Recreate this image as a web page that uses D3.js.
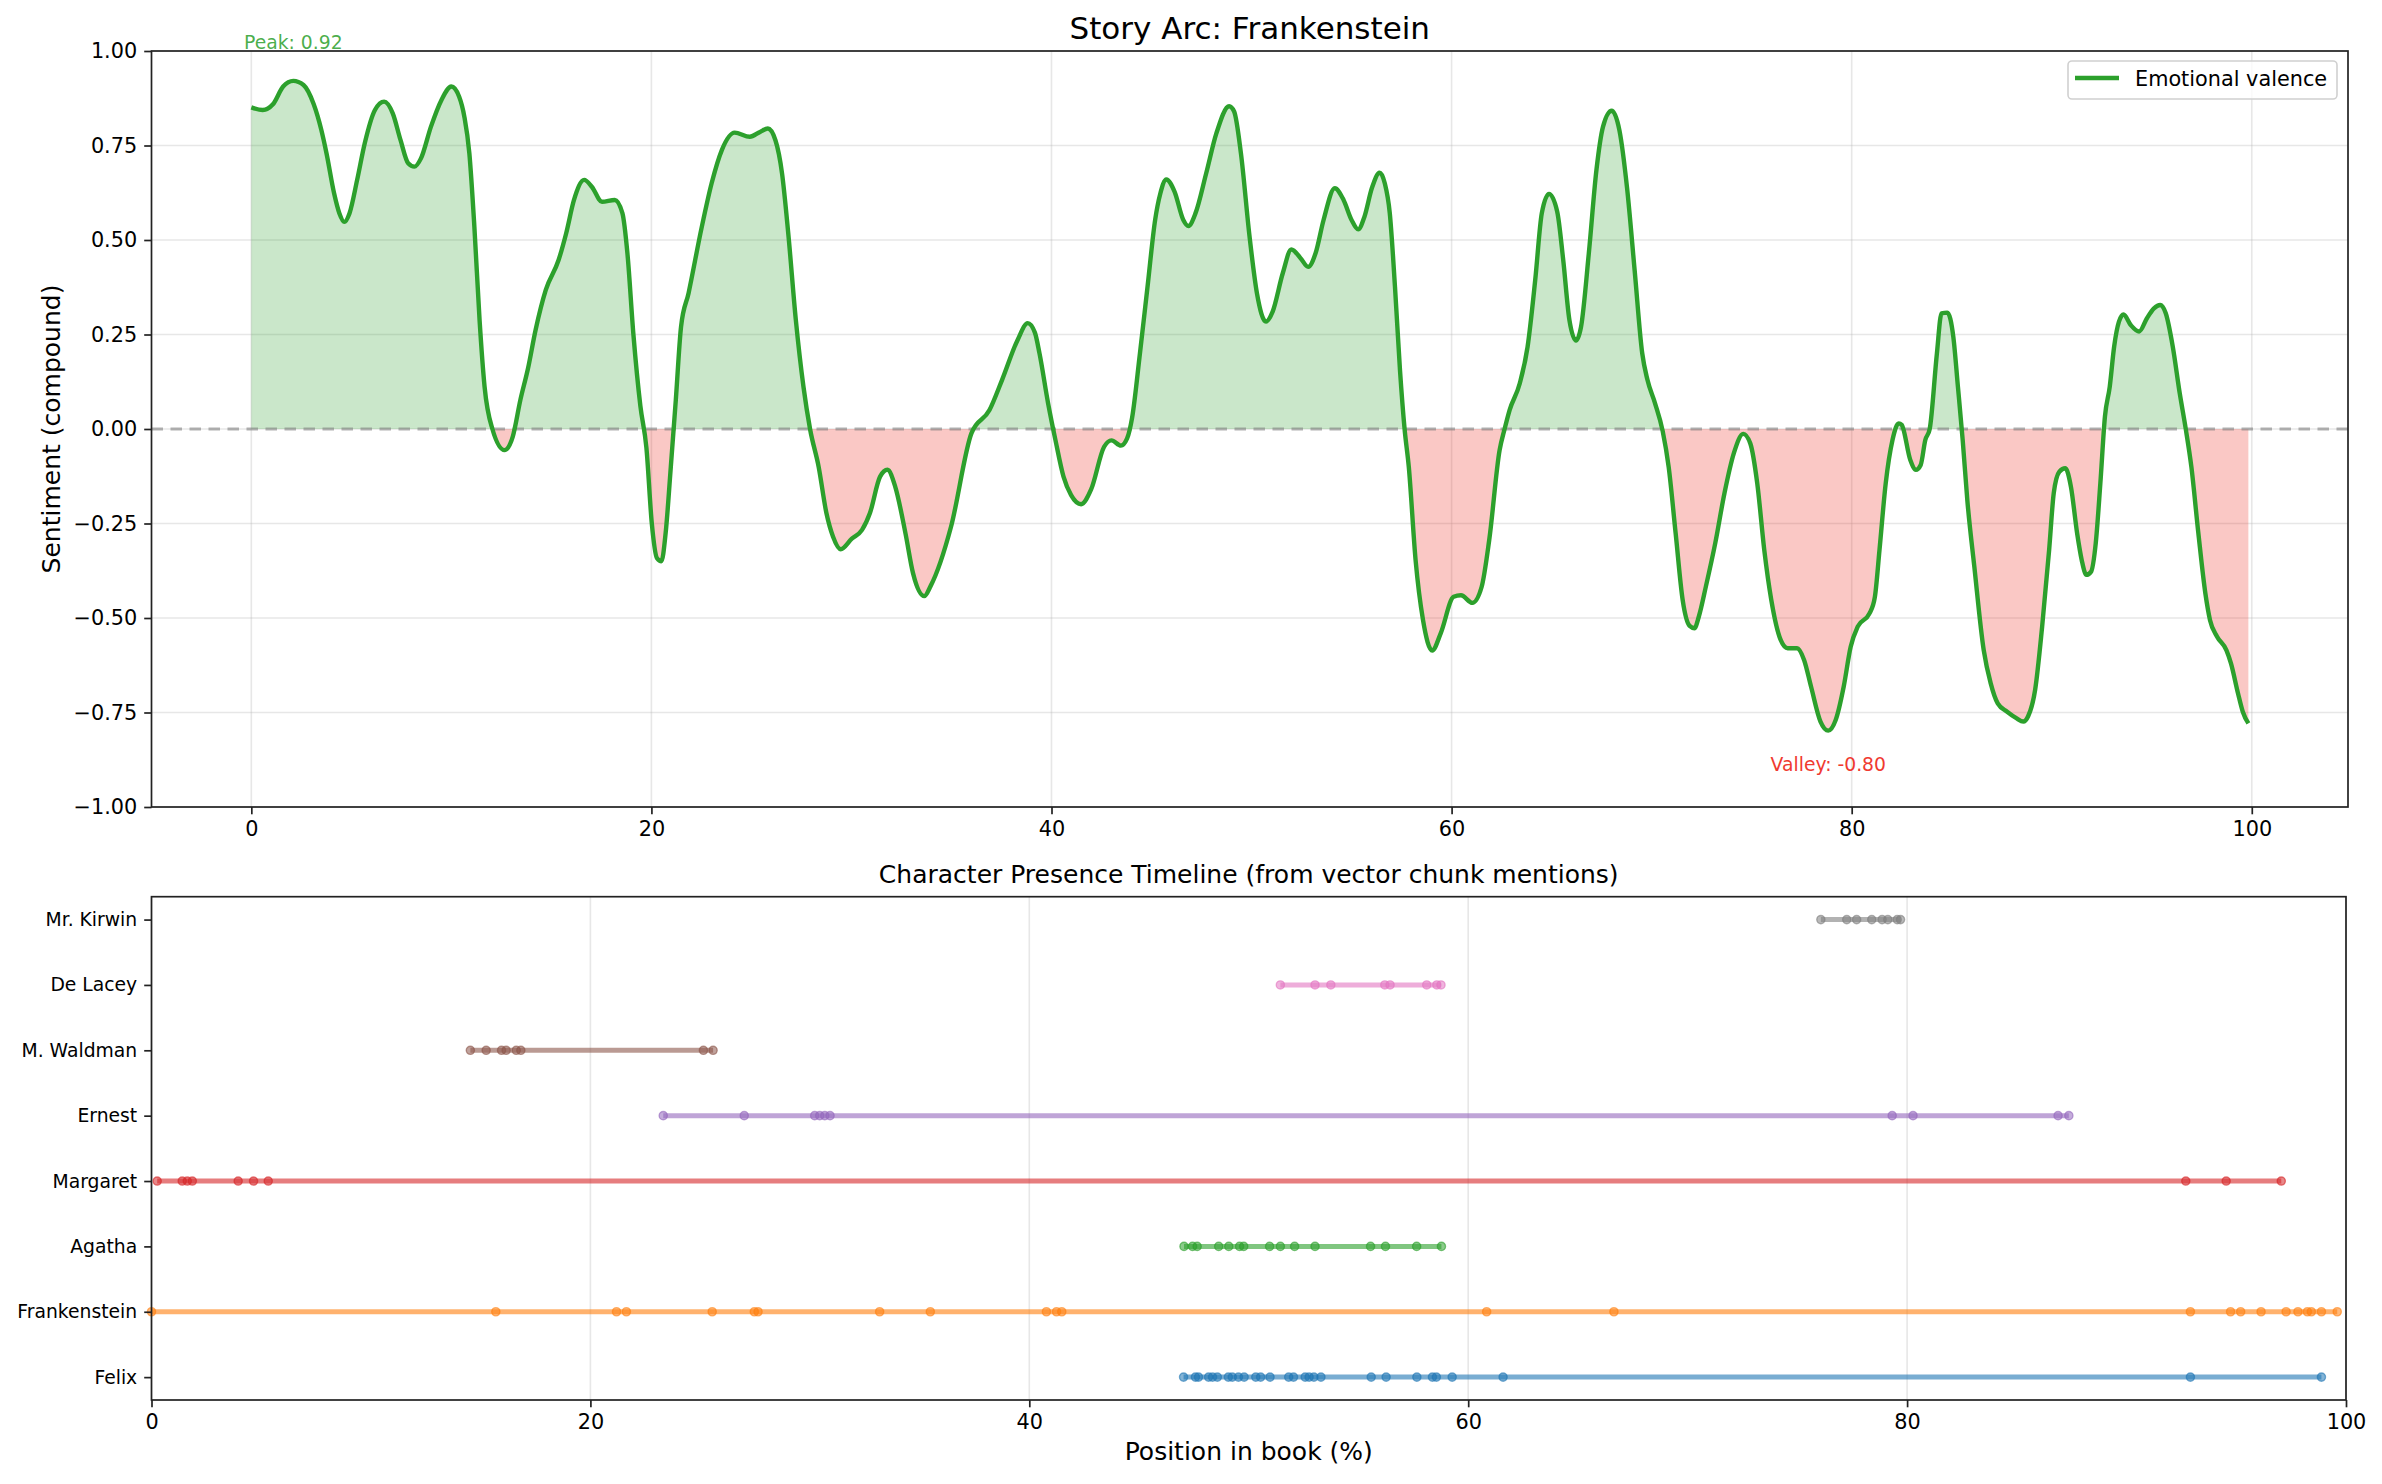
<!DOCTYPE html>
<html>
<head>
<meta charset="utf-8">
<title>Story Arc: Frankenstein</title>
<script src="https://cdn.jsdelivr.net/npm/d3@7"></script>
<style>
  body { margin: 0; background: #fff; }
  svg text { font-family: "DejaVu Sans", sans-serif; }
</style>
</head>
<body>
<div id="chart"></div>
<script>
// sentiment arc, position in book (%) and compound score
var arcX = [0.0,0.57,1.08,1.59,2.1,2.61,3.12,3.5,3.76,4.14,4.4,4.65,4.91,5.29,5.67,6.18,6.64,7.07,7.46,7.84,8.15,8.48,8.98,9.5,10.0,10.39,10.65,10.9,11.15,11.41,11.66,12.05,12.66,13.07,13.45,13.83,14.21,14.72,15.36,15.74,16.13,16.64,17.02,17.53,18.17,18.55,18.8,19.1,19.45,19.75,20.02,20.28,20.5,20.71,20.97,21.22,21.48,21.86,22.5,23.01,23.52,24.16,24.92,25.43,25.82,26.2,26.53,26.84,27.22,27.6,27.93,28.36,28.75,29.08,29.46,30.02,30.53,30.92,31.43,31.8,32.19,32.7,33.08,33.64,33.96,34.98,36.0,36.9,37.53,38.3,38.81,39.17,39.4,39.83,40.2,40.6,40.98,41.48,41.98,42.63,43.0,43.47,43.78,44.03,44.42,44.8,45.18,45.44,45.74,46.15,46.59,46.84,47.2,47.73,48.24,48.88,49.13,49.47,49.9,50.27,50.72,51.05,51.56,51.99,52.45,52.83,53.2,53.6,54.16,54.6,55.0,55.33,55.64,56.02,56.4,56.66,56.91,57.17,57.42,57.65,57.86,58.2,58.57,59.03,59.46,60.1,60.47,61.04,61.5,61.88,62.4,62.65,62.9,63.41,63.8,64.18,64.51,64.87,65.28,65.58,65.89,66.22,66.47,66.86,67.24,67.57,68.0,68.39,68.77,69.15,69.53,69.79,70.17,70.55,70.85,71.2,71.55,71.9,72.14,72.36,72.71,73.18,73.64,74.11,74.58,74.93,75.28,75.63,75.98,76.45,76.8,77.27,77.62,77.97,78.44,78.83,79.2,79.6,79.95,80.3,80.89,81.16,81.39,81.7,82.04,82.35,82.5,82.93,83.21,83.45,83.68,83.9,84.26,84.49,84.78,85.08,85.31,85.55,85.78,86.13,86.6,86.95,87.3,87.77,88.23,88.58,88.82,89.17,89.52,89.87,90.1,90.38,90.68,90.96,91.27,91.5,91.73,91.96,92.2,92.43,92.66,92.9,93.12,93.36,93.59,93.95,94.37,94.76,95.11,95.42,95.7,96.05,96.4,96.7,96.98,97.33,97.68,97.91,98.26,98.73,98.96,99.31,99.55,99.83];
var arcY = [0.851,0.844,0.859,0.906,0.921,0.91,0.859,0.791,0.729,0.623,0.571,0.548,0.571,0.659,0.756,0.844,0.866,0.835,0.764,0.703,0.694,0.716,0.8,0.87,0.906,0.879,0.826,0.729,0.535,0.288,0.112,0.0,-0.056,-0.02,0.077,0.16,0.262,0.368,0.447,0.518,0.606,0.659,0.641,0.601,0.606,0.571,0.465,0.25,0.06,-0.05,-0.25,-0.342,-0.35,-0.276,-0.1,0.077,0.27,0.36,0.53,0.65,0.738,0.784,0.773,0.786,0.795,0.764,0.676,0.518,0.288,0.112,0.0,-0.1,-0.223,-0.285,-0.318,-0.29,-0.267,-0.223,-0.126,-0.108,-0.153,-0.276,-0.382,-0.442,-0.415,-0.258,-0.011,0.05,0.13,0.235,0.28,0.255,0.2,0.068,-0.03,-0.126,-0.175,-0.199,-0.16,-0.047,-0.03,-0.044,-0.025,0.03,0.2,0.376,0.553,0.623,0.66,0.628,0.553,0.537,0.571,0.676,0.782,0.854,0.84,0.729,0.509,0.359,0.284,0.31,0.412,0.475,0.452,0.429,0.465,0.553,0.637,0.606,0.553,0.528,0.561,0.638,0.678,0.65,0.571,0.376,0.156,0.0,-0.1,-0.347,-0.505,-0.586,-0.54,-0.444,-0.44,-0.46,-0.418,-0.294,-0.056,0.0,0.05,0.121,0.218,0.394,0.571,0.622,0.575,0.447,0.288,0.234,0.27,0.465,0.685,0.8,0.842,0.79,0.638,0.42,0.2,0.13,0.068,-0.005,-0.1,-0.276,-0.452,-0.521,-0.527,-0.496,-0.417,-0.302,-0.17,-0.064,-0.013,-0.038,-0.144,-0.32,-0.452,-0.558,-0.58,-0.58,-0.611,-0.682,-0.774,-0.798,-0.77,-0.682,-0.576,-0.523,-0.488,-0.444,-0.32,-0.144,-0.029,0.015,0.011,-0.082,-0.108,-0.095,-0.029,0.0,0.2,0.306,0.308,0.244,0.112,-0.03,-0.188,-0.364,-0.585,-0.673,-0.726,-0.748,-0.765,-0.774,-0.76,-0.69,-0.523,-0.32,-0.17,-0.113,-0.104,-0.153,-0.276,-0.347,-0.386,-0.378,-0.302,-0.144,0.033,0.112,0.218,0.284,0.303,0.275,0.258,0.293,0.319,0.328,0.306,0.218,0.094,0.0,-0.1,-0.276,-0.435,-0.505,-0.549,-0.585,-0.62,-0.699,-0.748,-0.779];

var yTicks = [-1, -0.75, -0.5, -0.25, 0, 0.25, 0.5, 0.75, 1];
var xTicks = [0, 20, 40, 60, 80, 100];

// characters, bottom row first
var characters = ["Felix", "Frankenstein", "Agatha", "Margaret", "Ernest", "M. Waldman", "De Lacey", "Mr. Kirwin"];
var charColors = ["#1f77b4", "#ff7f0e", "#2ca02c", "#d62728", "#9467bd", "#8c564b", "#e377c2", "#7f7f7f"];
var felixPos = [47.03,47.57,47.71,48.17,48.35,48.57,49.07,49.25,49.53,49.79,50.32,50.54,50.97,51.82,52.04,52.57,52.75,52.97,53.29,55.58,56.26,57.66,58.37,58.55,59.27,61.59,92.91,98.88];
var frankensteinPos = [0,15.69,21.19,21.64,25.55,27.47,27.64,33.18,35.49,40.78,41.24,41.48,60.84,66.64,92.91,94.74,95.2,96.13,97.27,97.81,98.24,98.42,98.88,99.6];
var agathaPos = [47.05,47.44,47.65,48.63,49.09,49.58,49.77,50.95,51.44,52.09,53.02,55.55,56.23,57.65,58.78];
var margaretPos = [0.26,1.4,1.63,1.86,3.95,4.65,5.32,92.7,94.54,97.05];
var ernestPos = [23.32,27.01,30.22,30.45,30.68,30.92,79.32,80.27,86.88,87.37];
var waldmanPos = [14.53,15.25,15.95,16.16,16.62,16.83,25.15,25.59];
var delaceyPos = [51.44,53.02,53.74,56.2,56.44,58.11,58.57,58.76];
var kirwinPos = [76.07,77.25,77.7,78.39,78.86,79.12,79.55,79.7];
var charPositions = [felixPos, frankensteinPos, agathaPos, margaretPos, ernestPos, waldmanPos, delaceyPos, kirwinPos];

var W = 2382, H = 1484;
var svg = d3.select("#chart").append("svg").attr("width", W).attr("height", H);
svg.append("rect").attr("width", W).attr("height", H).attr("fill", "#fff");

// ---------- top panel: story arc ----------
var box1 = {l: 151.5, r: 2348, t: 51, b: 807};
var x1 = d3.scaleLinear().domain([-4.99, 104.81]).range([box1.l, box1.r]);
var y1 = d3.scaleLinear().domain([-1, 1]).range([box1.b, box1.t]);
var arc = arcX.map(function(d, i) { return {x: d, y: arcY[i]}; });

var g1 = svg.append("g");
var defs = svg.append("defs");
defs.append("clipPath").attr("id", "clipPos").append("rect")
    .attr("x", box1.l).attr("y", box1.t).attr("width", box1.r - box1.l).attr("height", y1(0) - box1.t);
defs.append("clipPath").attr("id", "clipNeg").append("rect")
    .attr("x", box1.l).attr("y", y1(0)).attr("width", box1.r - box1.l).attr("height", box1.b - y1(0));

// grid
g1.selectAll(".gy").data(yTicks).enter().append("line")
    .attr("x1", box1.l).attr("x2", box1.r).attr("y1", function(d) { return y1(d); }).attr("y2", function(d) { return y1(d); })
    .attr("stroke", "#b0b0b0").attr("stroke-opacity", 0.3).attr("stroke-width", 1.6);
g1.selectAll(".gx").data(xTicks).enter().append("line")
    .attr("y1", box1.t).attr("y2", box1.b).attr("x1", function(d) { return x1(d); }).attr("x2", function(d) { return x1(d); })
    .attr("stroke", "#b0b0b0").attr("stroke-opacity", 0.3).attr("stroke-width", 1.6);

var area = d3.area().curve(d3.curveMonotoneX)
    .x(function(d) { return x1(d.x); }).y0(y1(0)).y1(function(d) { return y1(d.y); });
g1.append("path").datum(arc).attr("d", area).attr("fill", "#2ca02c").attr("fill-opacity", 0.25)
    .attr("clip-path", "url(#clipPos)");
g1.append("path").datum(arc).attr("d", area).attr("fill", "#ee3b30").attr("fill-opacity", 0.28)
    .attr("clip-path", "url(#clipNeg)");

// zero line
g1.append("line").attr("x1", box1.l).attr("x2", box1.r).attr("y1", y1(0)).attr("y2", y1(0))
    .attr("stroke", "#808080").attr("stroke-opacity", 0.6).attr("stroke-width", 3)
    .attr("stroke-dasharray", "11.5,7.5");

var line = d3.line().curve(d3.curveMonotoneX)
    .x(function(d) { return x1(d.x); }).y(function(d) { return y1(d.y); });
g1.append("path").datum(arc).attr("d", line).attr("fill", "none")
    .attr("stroke", "#2ca02c").attr("stroke-width", 4.4).attr("stroke-linejoin", "round");

// peak / valley labels
var iMax = d3.maxIndex(arcY), iMin = d3.minIndex(arcY);
g1.append("text").attr("x", x1(arcX[iMax])).attr("y", y1(arcY[iMax] + 0.08) - 2)
    .attr("text-anchor", "middle").attr("font-size", 18.75).attr("fill", "#2ca02c").attr("fill-opacity", 0.85)
    .text("Peak: " + arcY[iMax].toFixed(2));
g1.append("text").attr("x", x1(arcX[iMin])).attr("y", y1(arcY[iMin] - 0.12) - 5)
    .attr("text-anchor", "middle").attr("font-size", 18.75).attr("fill", "#f03a30")
    .text("Valley: " + arcY[iMin].toFixed(2));

// frame
g1.append("rect").attr("x", box1.l).attr("y", box1.t).attr("width", box1.r - box1.l).attr("height", box1.b - box1.t)
    .attr("fill", "none").attr("stroke", "#222").attr("stroke-width", 1.7);

// axes
var fmtY = function(d) { return d3.format(".2f")(d).replace("-", "\u2212"); };
var axY1 = g1.append("g").attr("transform", "translate(" + box1.l + ",0)")
    .call(d3.axisLeft(y1).tickValues(yTicks).tickFormat(fmtY).tickSize(7.3).tickPadding(7));
var axX1 = g1.append("g").attr("transform", "translate(0," + box1.b + ")")
    .call(d3.axisBottom(x1).tickValues(xTicks).tickFormat(d3.format("d")).tickSize(7.3).tickPadding(7));
[axY1, axX1].forEach(function(a) {
    a.select(".domain").remove();
    a.selectAll("line").attr("stroke", "#222").attr("stroke-width", 1.7);
    a.selectAll("text").attr("font-size", 20.8).attr("fill", "#000").attr("font-family", "DejaVu Sans");
});

svg.append("text").attr("x", (box1.l + box1.r) / 2).attr("y", 38.5).attr("text-anchor", "middle")
    .attr("font-size", 31).text("Story Arc: Frankenstein");
svg.append("text").attr("transform", "translate(51," + ((box1.t + box1.b) / 2) + ") rotate(-90)")
    .attr("text-anchor", "middle").attr("dominant-baseline", "central").attr("font-size", 25)
    .text("Sentiment (compound)");

// legend
var lg = svg.append("g");
lg.append("rect").attr("x", 2068).attr("y", 61).attr("width", 269).attr("height", 38).attr("rx", 4)
    .attr("fill", "#fff").attr("fill-opacity", 0.8).attr("stroke", "#d0d0d0").attr("stroke-width", 1.6);
lg.append("line").attr("x1", 2075).attr("x2", 2119).attr("y1", 78).attr("y2", 78)
    .attr("stroke", "#2ca02c").attr("stroke-width", 4.4);
lg.append("text").attr("x", 2135).attr("y", 86).attr("font-size", 20.8).text("Emotional valence");

// ---------- bottom panel: character presence ----------
var box2 = {l: 151.5, r: 2346, t: 896.7, b: 1400};
var x2 = d3.scaleLinear().domain([0, 100]).range([box2.l, box2.r]);
var y2 = d3.scaleLinear().domain([-0.35, 7.35]).range([box2.b, box2.t]);
var g2 = svg.append("g");

g2.selectAll(".gx2").data(xTicks).enter().append("line")
    .attr("y1", box2.t).attr("y2", box2.b).attr("x1", function(d) { return x2(d); }).attr("x2", function(d) { return x2(d); })
    .attr("stroke", "#b0b0b0").attr("stroke-opacity", 0.3).attr("stroke-width", 1.6);

characters.forEach(function(name, i) {
    var pos = charPositions[i];
    var c = charColors[i];
    var row = g2.append("g");
    row.append("line").attr("x1", x2(d3.min(pos))).attr("x2", x2(d3.max(pos)))
        .attr("y1", y2(i)).attr("y2", y2(i))
        .attr("stroke", c).attr("stroke-opacity", 0.6).attr("stroke-width", 5);
    row.selectAll("circle").data(pos).enter().append("circle")
        .attr("cx", function(d) { return x2(d); }).attr("cy", y2(i)).attr("r", 4.1)
        .attr("fill", c).attr("fill-opacity", 0.55)
        .attr("stroke", c).attr("stroke-opacity", 0.6).attr("stroke-width", 1.4);
});

g2.append("rect").attr("x", box2.l).attr("y", box2.t).attr("width", box2.r - box2.l).attr("height", box2.b - box2.t)
    .attr("fill", "none").attr("stroke", "#222").attr("stroke-width", 1.7);

var y2band = d3.scaleOrdinal().domain(characters).range(characters.map(function(d, i) { return y2(i); }));
var axY2 = g2.append("g").attr("transform", "translate(" + box2.l + ",0)")
    .call(d3.axisLeft(y2band).tickSize(7.3).tickPadding(7));
var axX2 = g2.append("g").attr("transform", "translate(0," + box2.b + ")")
    .call(d3.axisBottom(x2).tickValues(xTicks).tickFormat(d3.format("d")).tickSize(7.3).tickPadding(7));
[axY2, axX2].forEach(function(a) {
    a.select(".domain").remove();
    a.selectAll("line").attr("stroke", "#222").attr("stroke-width", 1.7);
    a.selectAll("text").attr("fill", "#000").attr("font-family", "DejaVu Sans");
});
axY2.selectAll("text").attr("font-size", 18.75);
axX2.selectAll("text").attr("font-size", 20.8);

svg.append("text").attr("x", (box2.l + box2.r) / 2).attr("y", 883).attr("text-anchor", "middle")
    .attr("font-size", 25).text("Character Presence Timeline (from vector chunk mentions)");
svg.append("text").attr("x", (box2.l + box2.r) / 2).attr("y", 1460).attr("text-anchor", "middle")
    .attr("font-size", 25).text("Position in book (%)");
</script>
</body>
</html>
